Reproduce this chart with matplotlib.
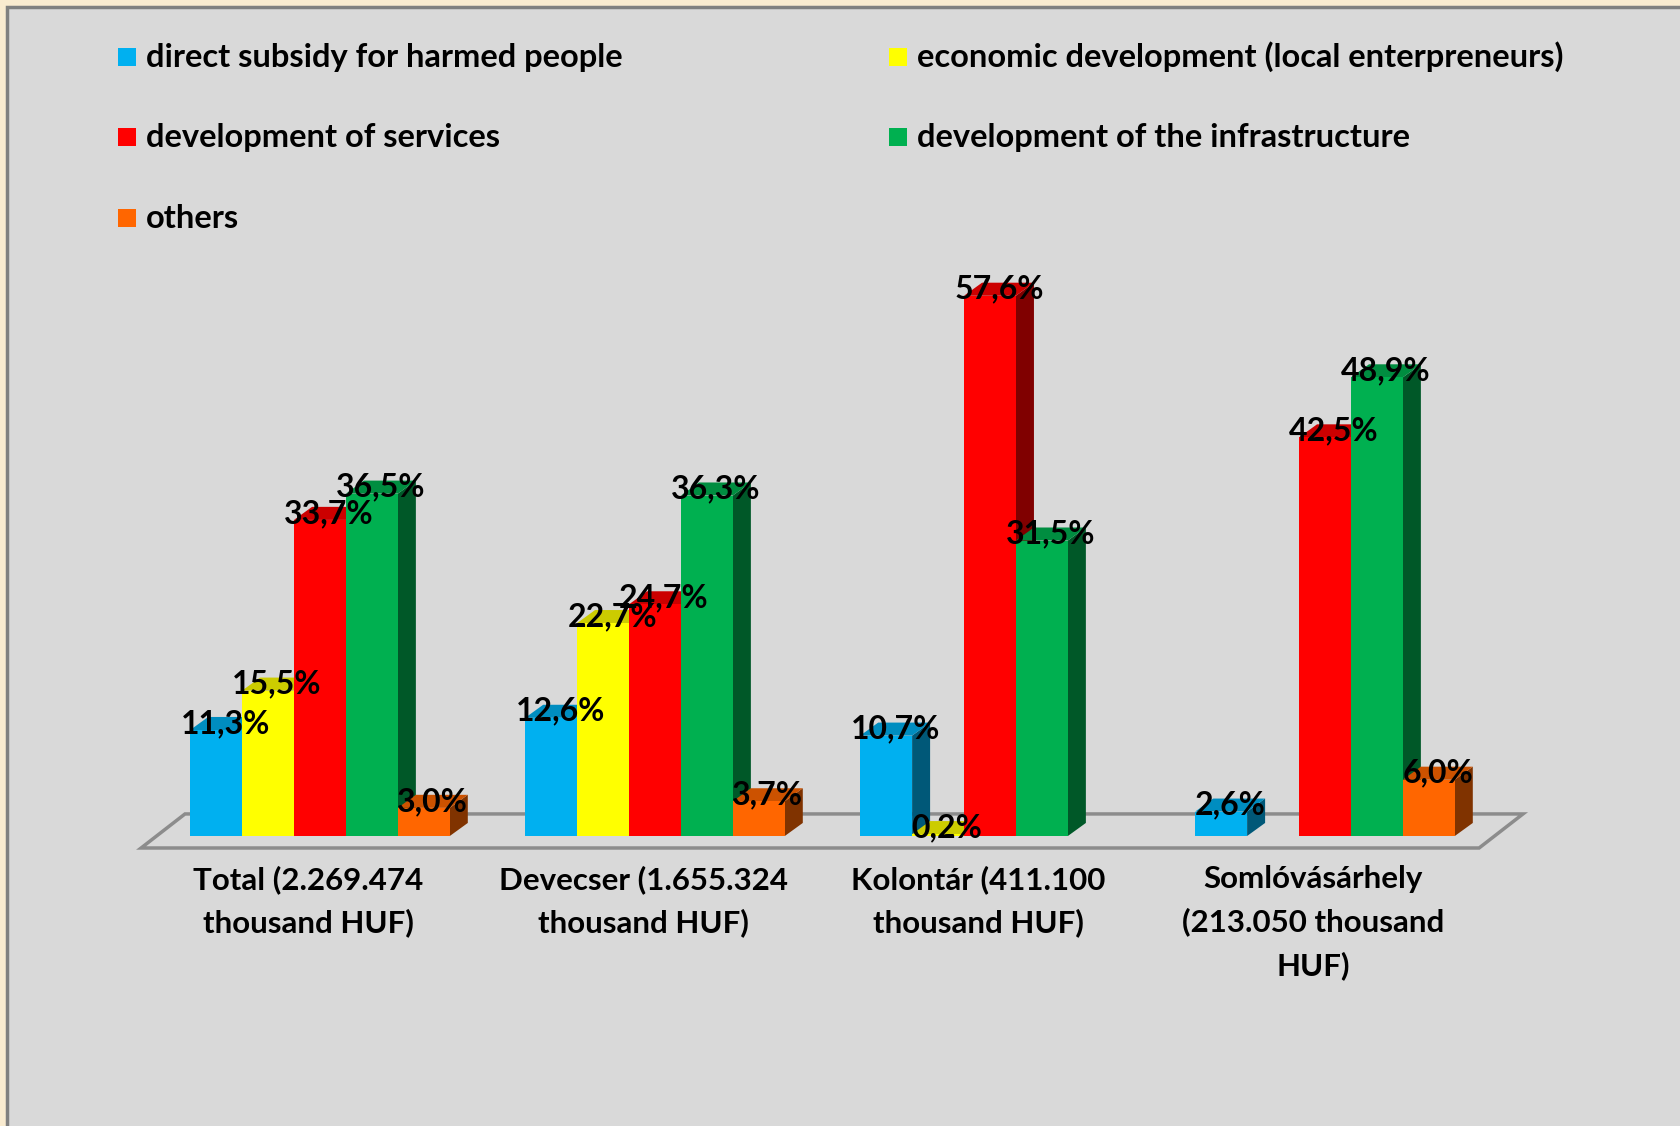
import numpy as np
import matplotlib.pyplot as plt
from matplotlib.patches import Polygon, Rectangle
from matplotlib.colors import to_rgb

plt.rcParams['font.family'] = ['Lato', 'DejaVu Sans']

categories = ["Total (2.269.474\nthousand HUF)",
              "Devecser (1.655.324\nthousand HUF)",
              "Kolontár (411.100\nthousand HUF)",
              "Somlóvásárhely\n(213.050 thousand\nHUF)"]

series_names = ["direct subsidy for harmed people",
                "economic development (local enterpreneurs)",
                "development of services",
                "development of the infrastructure",
                "others"]

subsidy = [11.3, 12.6, 10.7, 2.6]
economic = [15.5, 22.7, 0.2, np.nan]
services = [33.7, 24.7, 57.6, 42.5]
infrastructure = [36.5, 36.3, 31.5, 48.9]
others = [3.0, 3.7, np.nan, 6.0]

colors = ['#00B0F0', '#FFFF00', '#FF0000', '#00B050', '#FF6600']

values = [subsidy, economic, services, infrastructure, others]


def shade(c, f):
    return tuple(v * f for v in to_rgb(c))


fig = plt.figure(figsize=(16.8, 11.26), dpi=100)
fig.patch.set_facecolor('#F9EBD0')

# gray chart area with its frame
fig.patches.append(Rectangle((7 / 1680, -0.05), 1.1, 1 - 7 / 1126 + 0.05,
                             transform=fig.transFigure, facecolor='#D9D9D9',
                             edgecolor='#808080', lw=2.5, zorder=-1))

ax = fig.add_axes([0, 0, 1, 1])
ax.set_zorder(1)
ax.set_xlim(-0.9552, 4.0597)
ax.set_ylim(-30.92, 89.13)
ax.axis('off')
ax.patch.set_alpha(0)

bw = 0.155     # bar width
ddx = 0.0537   # depth offset, x
ddy = 1.39     # depth offset, y

# floor
fx0, fx1, fy0, fy1 = -0.534, 3.46, -1.28, 2.35
fdx = 0.131
ax.add_patch(Polygon([(fx0, fy0), (fx1, fy0), (fx1 + fdx, fy1), (fx0 + fdx, fy1)],
                     closed=True, facecolor='none', edgecolor='#8C8C8C', lw=2.5,
                     zorder=1))

x = np.arange(len(categories))
for i in x:
    for k, (vals, col) in enumerate(zip(values, colors)):
        h = vals[i]
        if np.isnan(h):
            continue
        x0 = i + (k - 2.5) * bw
        x1 = x0 + bw
        z = 2 + k
        ax.add_patch(Polygon([(x1, 0), (x1, h), (x1 + ddx, h + ddy), (x1 + ddx, ddy)],
                             closed=True, facecolor=shade(col, 0.5), lw=0, zorder=z))
        ax.add_patch(Polygon([(x0, h), (x1, h), (x1 + ddx, h + ddy), (x0 + ddx, h + ddy)],
                             closed=True, facecolor=shade(col, 0.8), lw=0, zorder=z))
        ax.bar(x0, h, width=bw, align='edge', color=col, lw=0, zorder=z + 0.5)
        ax.text(x0 + bw / 2 + ddx / 2, h + ddy / 2, f"{h:.1f}%".replace('.', ','),
                ha='center', va='center', fontsize=23, fontweight='bold',
                color='black', zorder=20)

for i, lab in enumerate(categories):
    ax.text(i - 0.035, -3.1, lab, ha='center', va='top', fontsize=22.5,
            fontweight='bold', linespacing=1.6)

# legend
leg_pos = [(118, 57), (889, 57), (118, 137), (889, 137), (118, 218)]
for (px, py), name, col in zip(leg_pos, series_names, colors):
    fig.patches.append(Rectangle((px / 1680, 1 - (py + 9) / 1126), 18 / 1680, 18 / 1126,
                                 transform=fig.transFigure, facecolor=col, lw=0))
    fig.text((px + 28) / 1680, 1 - py / 1126, name, ha='left', va='center',
             fontsize=23.5, fontweight='bold')

fig.savefig('out.png', dpi=100, facecolor=fig.get_facecolor())
